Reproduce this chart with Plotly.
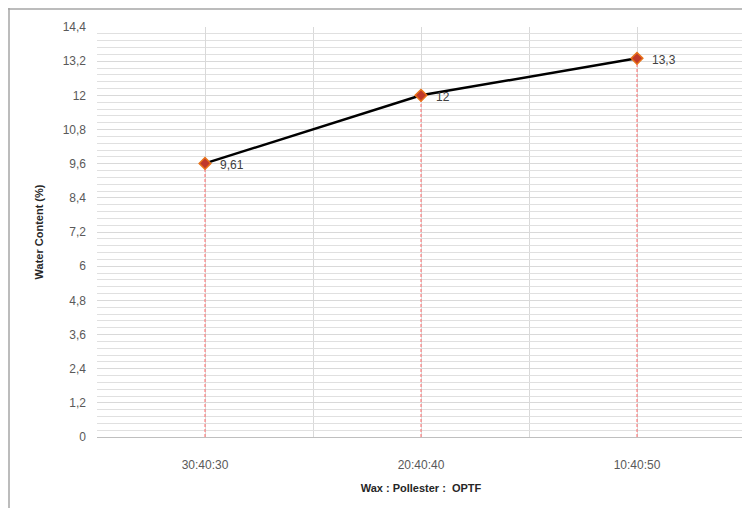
import plotly.graph_objects as go

categories = ["30:40:30", "20:40:40", "10:40:50"]
water_content = [9.61, 12.0, 13.3]
y_max = 14.4
y_step = 1.2
y_minor_step = 0.24

xpos = list(range(len(categories)))
labels = [f"{v:g}".replace(".", ",") for v in water_content]

fig = go.Figure()

# red dashed drop lines from each point to the axis
for xp, v in zip(xpos, water_content):
    fig.add_trace(go.Scatter(x=[xp, xp], y=[0, v], mode="lines",
                             line=dict(color="#FF6B6B", width=1, dash="3px,2px"),
                             hoverinfo="skip", showlegend=False))

fig.add_trace(go.Scatter(
    x=xpos, y=water_content, mode="lines+markers",
    line=dict(color="black", width=2.5),
    marker=dict(symbol="diamond", size=9, color="#C0392B",
                line=dict(color="#E8731A", width=1.5)),
    showlegend=False))

for xp, v, lab in zip(xpos, water_content, labels):
    fig.add_annotation(x=xp, y=v, text=lab, showarrow=False,
                       xanchor="left", yanchor="middle", xshift=13, yshift=-2,
                       font=dict(family="Liberation Sans", size=12, color="#404040"))

L, T, W, H = 89, 19, 648, 410

fig.update_layout(
    width=750, height=508,
    margin=dict(l=L, r=750 - L - W, t=T, b=508 - T - H),
    paper_bgcolor="white", plot_bgcolor="white",
    separators=",.",
    font=dict(family="Liberation Sans", size=12, color="#595959"),
    xaxis=dict(range=[-0.5, len(categories) - 0.5],
               tickvals=xpos, ticktext=categories,
               showgrid=True, gridcolor="#D9D9D9", gridwidth=1,
               minor=dict(tick0=0.5, dtick=1, showgrid=True,
                          gridcolor="#D9D9D9", gridwidth=1),
               showline=True, linecolor="#BFBFBF", linewidth=1,
               zeroline=False, ticks="", ticklabelstandoff=17,
               title=dict(text="<b>Wax : Pollester :  OPTF</b>",
                          font=dict(size=11, color="#262626"), standoff=12)),
    yaxis=dict(range=[0, y_max], dtick=y_step, tick0=0,
               tickformat=".1~f",
               showgrid=True, gridcolor="#D9D9D9", gridwidth=1,
               minor=dict(dtick=y_minor_step, tick0=0, showgrid=True,
                          gridcolor="#E0E0E0", gridwidth=1),
               showline=False, zeroline=False, ticks="",
               ticklabelstandoff=10,
               title=dict(text="<b>Water Content (%)</b>",
                          font=dict(size=11, color="#262626"), standoff=16)),
    shapes=[
        dict(type="line", xref="paper", yref="paper",
             x0=-L / W, x1=(750 - L) / W,
             y0=(H + T - 1) / H, y1=(H + T - 1) / H,
             line=dict(color="#A6A6A6", width=1.5)),
        dict(type="line", xref="paper", yref="paper",
             x0=(-L + 1) / W, x1=(-L + 1) / W,
             y0=(H + T) / H, y1=-(508 - T - H) / H,
             line=dict(color="#A6A6A6", width=1.5)),
    ],
)

fig.write_html("out.html")
